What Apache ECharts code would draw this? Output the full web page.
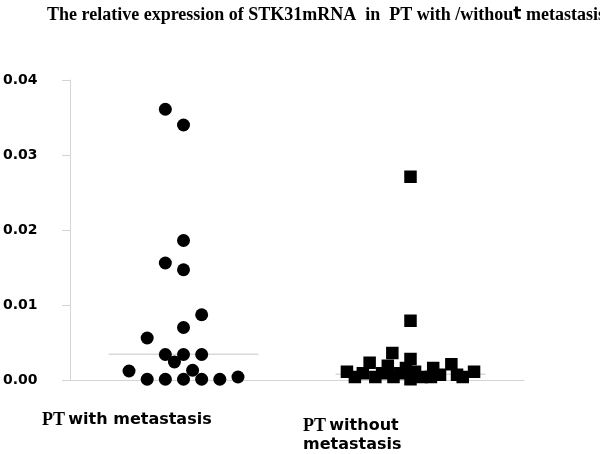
<!DOCTYPE html>
<html><head><meta charset="utf-8">
<script src="https://cdn.jsdelivr.net/npm/echarts@6/dist/echarts.min.js"></script>
<style>html,body{margin:0;padding:0;background:#fff}#c{width:600px;height:454px}</style>
</head><body><div id="c"></div>
<script>
// Group positions on the hidden x scale
const groupCenters = [1, 3];
const yTicks = [0, 0.01, 0.02, 0.03, 0.04];

// PT with metastasis (circles): jitter offset and relative expression
const withMetOffset = [-0.48, -0.32, 0, 0.16, -0.16, 0, 0.16, -0.08, 0.08, -0.32, -0.16, 0, 0.16, 0.32, 0.48, -0.16, 0, 0, -0.16, 0];
const withMetValue  = [0.0012, 0.0056, 0.0070, 0.0087, 0.0034, 0.0034, 0.0034, 0.0024, 0.0013, 0.0001, 0.0001, 0.0001, 0.0001, 0.0001, 0.0004, 0.0361, 0.0340, 0.0186, 0.0156, 0.0147];

// PT without metastasis (squares)
const withoutMetOffset = [-0.56, -0.49, -0.42, -0.36, -0.31, -0.25, -0.20, -0.16, -0.15, -0.09, -0.04, 0, 0, 0.04, 0.10, 0.20, 0.18, 0.26, 0.36, 0.41, 0.46, 0.56, 0, 0];
const withoutMetValue  = [0.0011, 0.0004, 0.0009, 0.0023, 0.0004, 0.0009, 0.0019, 0.0036, 0.0004, 0.0009, 0.0016, 0.0028, 0.0001, 0.0011, 0.0004, 0.0016, 0.0004, 0.0007, 0.0021, 0.0007, 0.0004, 0.0011, 0.0079, 0.0271];

// Horizontal centre lines (median) of each group
const centerLineValues = [0.00343, 0.00076];
const centerLineHalfWidth = 0.66;

const chart = echarts.init(document.getElementById('c'), null, {renderer: 'canvas'});

function pts(center, offs, vals) { return offs.map((o, i) => [center + o, vals[i]]); }
function cline(center, v) { return [[center - centerLineHalfWidth, v], [center + centerLineHalfWidth, v]]; }

const serif = '"Liberation Serif","Times New Roman",serif';
const sans = '"DejaVu Sans",Verdana,sans-serif';

chart.setOption({
  backgroundColor: '#fff',
  animation: false,
  title: {
    left: 42, top: 1,
    text: '{a|The relative expression of STK31mRNA  in  PT with /withou}{b|t}{a| metastasis}',
    textStyle: {
      rich: {
        a: {fontFamily: serif, fontWeight: 'bold', fontSize: 18, color: '#000'},
        b: {fontFamily: sans, fontWeight: 'bold', fontSize: 17, color: '#000'}
      }
    }
  },
  grid: {left: 70, right: 76, top: 80, bottom: 74, containLabel: false, outerBoundsMode: 'none'},
  xAxis: {
    type: 'value', min: 0, max: 4,
    axisLine: {show: true, onZero: true, lineStyle: {color: '#d4d4d4', width: 1}},
    axisTick: {show: false}, axisLabel: {show: false}, splitLine: {show: false}
  },
  yAxis: {
    type: 'value', min: yTicks[0], max: yTicks[yTicks.length - 1], interval: 0.01,
    axisLine: {show: true, lineStyle: {color: '#d4d4d4', width: 1}},
    axisTick: {show: true, length: 8, lineStyle: {color: '#d4d4d4'}},
    splitLine: {show: false},
    axisLabel: {
      formatter: v => v.toFixed(2), align: 'left', margin: 67,
      fontFamily: sans, fontWeight: 'bold', fontSize: 14, color: '#000', verticalAlign: 'middle', padding: [0, 0, 4, 0]
    }
  },
  series: [
    {type: 'line', data: cline(groupCenters[0], centerLineValues[0]), symbol: 'none', lineStyle: {color: '#d9d9d9', width: 1.5}, z: 1},
    {type: 'line', data: cline(groupCenters[1], centerLineValues[1]), symbol: 'none', lineStyle: {color: '#d9d9d9', width: 1.5}, z: 1},
    {type: 'scatter', data: pts(groupCenters[0], withMetOffset, withMetValue), symbol: 'circle', symbolSize: 13, itemStyle: {color: '#000', opacity: 1}, z: 3},
    {type: 'scatter', data: pts(groupCenters[1], withoutMetOffset, withoutMetValue), symbol: 'rect', symbolSize: 12.5, itemStyle: {color: '#000', opacity: 1}, z: 3}
  ],
  graphic: [
    {type: 'text', left: 42, top: 411, style: {
      text: '{p|PT} {s|with metastasis}',
      rich: {p: {fontFamily: serif, fontWeight: 'bold', fontSize: 18, color: '#000'}, s: {fontFamily: sans, fontWeight: 'bold', fontSize: 16, color: '#000'}}
    }},
    {type: 'text', left: 303, top: 417, style: {
      text: '{p|PT} {s|without}\n{s|metastasis}',
      rich: {p: {fontFamily: serif, fontWeight: 'bold', fontSize: 18, color: '#000', lineHeight: 19}, s: {fontFamily: sans, fontWeight: 'bold', fontSize: 16, color: '#000', lineHeight: 19}}
    }}
  ]
});
</script></body></html>
